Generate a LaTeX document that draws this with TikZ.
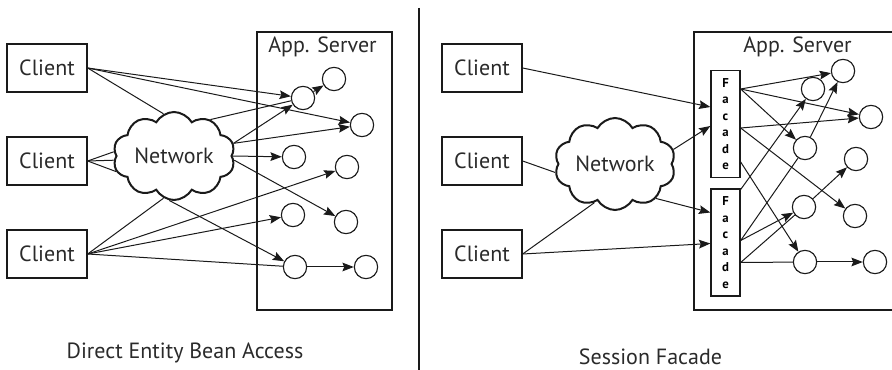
\documentclass[tikz,border=0pt]{standalone}
\usepackage{fontspec}
\setmainfont{PT Sans}
\usetikzlibrary{shapes.symbols,arrows.meta}
\definecolor{lnc}{HTML}{1A1A1A}
\definecolor{txc}{HTML}{2A2A2A}
\begin{document}
\begin{tikzpicture}[x=0.75pt,y=-0.75pt,
  lnk/.style={draw=lnc, line width=0.75pt},
  arr/.style={lnk, -{Stealth[length=8.5pt,width=6.5pt,inset=1.3pt]}},
  client/.style={draw=lnc, line width=1pt, minimum width=60pt, minimum height=36pt, inner sep=0pt,
     text=txc, font=\fontsize{16.5}{19}\selectfont},
  bean/.style={circle, draw=lnc, line width=0.85pt, minimum size=17.5pt, inner sep=0pt},
  facade/.style={draw=lnc, line width=1pt, minimum width=21.75pt, minimum height=80pt, inner sep=0pt,
     align=center, font=\bfseries\fontsize{9.6}{12.4}\selectfont},
  netw/.style={cloud, draw=lnc, cloud puffs=10, cloud puff arc=120, cloud ignores aspect,
     line width=1.5pt, inner sep=0pt, text=txc, font=\fontsize{16.5}{19}\selectfont},
  srvlabel/.style={anchor=base, text=txc, font=\fontsize{16.5}{19}\selectfont},
  caption/.style={anchor=base, text=txc, font=\fontsize{16.5}{19}\selectfont}]
\useasboundingbox (0,0) rectangle (892,370);

% ---------- left panel ----------
\node[draw=lnc, line width=1pt, minimum width=101.25pt, minimum height=208.5pt, inner sep=0pt] (srvL) at (324.5,171) {};
\node[srvlabel] (srvLt) at (322.5,53) {App. Server};

\node[client] (cl1) at (47,68) {Client};
\node[client] (cl2) at (47,161) {Client};
\node[client] (cl3) at (47,254) {Client};

\node[netw, minimum width=91.5pt, minimum height=66pt] (netL) at (174,156) {\raisebox{-3pt}{Network}};

\node[bean] (c1) at (303,98) {};
\node[bean] (c2) at (334,79) {};
\node[bean] (c3) at (362,125) {};
\node[bean] (c4) at (294,157) {};
\node[bean] (c5) at (347,167) {};
\node[bean] (c6) at (293,215) {};
\node[bean] (c7) at (346,222) {};
\node[bean] (c8) at (295,267) {};
\node[bean] (c9) at (366,267) {};

\draw[arr] (cl1.east) -- (c1);
\draw[arr] (cl1.east) -- (c3);
\draw[lnk] (cl1.east) -- (netL.104);
\draw[lnk] (netL.45) -- (c1);
\draw[arr] (netL.12) -- (c1);
\draw[arr] (netL.12) -- (c3);
\draw[arr] (netL.0) -- (c4);
\draw[arr] (netL.-4) -- (c7);
\draw[lnk] (cl2.east) -- (netL.176);
\draw[lnk] (cl2.east) -- (netL.184);
\draw[lnk] (cl2.east) -- (netL.195);
\draw[lnk] (cl3.east) -- (netL.256);
\draw[arr] (cl3.east) -- (c5);
\draw[arr] (cl3.east) -- (c6);
\draw[lnk] (cl3.east) -- (c8);
\draw[arr] (netL.264) -- (c8);
\draw[arr] (c1) -- (c2);
\draw[arr] (c8) -- (c9);

\node[caption] (capL) at (185,358) {Direct Entity Bean Access};

% ---------- divider ----------
\draw[draw=lnc, line width=1.5pt] (419,8) -- (419,372);

% ---------- right panel ----------
\draw[draw=lnc, line width=1pt] (895,32) -- (694,32) -- (694,310) -- (895,310);
\node[srvlabel] (srvRt) at (797.5,53) {App. Server};

\node[client] (cr1) at (482,68) {Client};
\node[client] (cr2) at (482,161) {Client};
\node[client] (cr3) at (482,254) {Client};

\node[netw, minimum width=90.75pt, minimum height=69pt] (netR) at (615,164) {\raisebox{-4.5pt}{Network}};

\node[facade] (f1) at (725.5,124) {F\\a\\c\\a\\d\\e};
\node[facade] (f2) at (725.5,242.5) {F\\a\\c\\a\\d\\e};

\path (f1.north west) ++(0,37) coordinate (f1i1);
\path (f1.north west) ++(0,56) coordinate (f1i2);
\path (f2.north west) ++(0,24) coordinate (f2i1);
\path (f2.north west) ++(0,55) coordinate (f2i2);
\path (f1.north east) ++(0,19) coordinate (f1o1);
\path (f1.north east) ++(0,58) coordinate (f1o2);
\path (f1.north east) ++(0,92) coordinate (f1o3);
\path (f2.north east) ++(0,1) coordinate (f2o1);
\path (f2.north east) ++(0,52) coordinate (f2o2);
\path (f2.north east) ++(0,74) coordinate (f2o3);

\node[bean] (r1) at (843,71) {};
\node[bean] (r2) at (813,89) {};
\node[bean] (r3) at (871,117) {};
\node[bean] (r4) at (805,148) {};
\node[bean] (r5) at (856,159) {};
\node[bean] (r6) at (804,207) {};
\node[bean] (r7) at (855,216) {};
\node[bean] (r8) at (805,262) {};
\node[bean] (r9) at (875,262) {};

\draw[arr] (cr1.east) -- (f1i1);
\draw[arr] (netR.14) -- (f1i2);
\draw[arr] (netR.320) -- (f2i1);
\draw[arr] (cr3.east) -- (f2i2);
\draw[lnk] (cr2.east) -- (netR.188);
\draw[lnk] (cr3.east) -- (netR.242);

\draw[arr] (f1o1) -- (r1);
\draw[arr] (f1o1) -- (r3);
\draw[arr] (f1o1) -- (r4);
\draw[arr] (f1o2) -- (r3);
\draw[arr] (f1o2) -- (r7);
\draw[arr] (f1o3) -- (r8);
\draw[arr] (f2o1) -- (r2);
\draw[lnk] (f2o2) -- (r4);
\draw[arr] (f2o2) -- (r6);
\draw[lnk] (f2o3) -- (r6);
\draw[lnk] (f2o3) -- (r8);
\draw[arr] (r4) -- (r1);
\draw[arr] (r6) -- (r5);
\draw[arr] (r8) -- (r9);

\node[caption] (capR) at (650.5,364) {Session Facade};
\end{tikzpicture}
\end{document}
